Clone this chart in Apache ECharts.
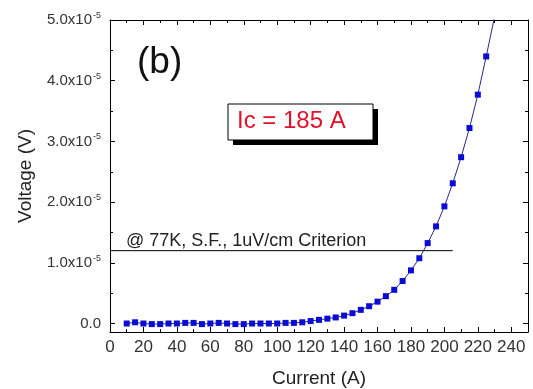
<!DOCTYPE html>
<html>
<head>
<meta charset="utf-8">
<script src="https://cdn.jsdelivr.net/npm/echarts@6.0.0/dist/echarts.min.js"></script>
<style>
  html, body { margin: 0; padding: 0; background: #fff; }
  #chart { width: 533px; height: 389px; }
</style>
</head>
<body>
<div id="chart"></div>
<script>
// current (A) and measured voltage, in units of 1e-5 V
const current = [10, 15, 20, 25, 30, 35, 40, 45, 50, 55, 60, 65, 70, 75, 80, 85, 90, 95, 100, 105,
  110, 115, 120, 125, 130, 135, 140, 145, 150, 155, 160, 165, 170, 175, 180, 185, 190, 195, 200,
  205, 210, 215, 220, 225, 230];
const voltage = [0.00, 0.02, 0.00, -0.01, -0.01, 0.00, 0.00, 0.01, 0.01, -0.01, 0.00, 0.01, 0.00,
  -0.01, -0.01, 0.00, 0.00, 0.00, 0.00, 0.01, 0.01, 0.02, 0.04, 0.06, 0.08, 0.10, 0.13, 0.17,
  0.225, 0.285, 0.36, 0.45, 0.555, 0.70, 0.875, 1.075, 1.325, 1.60, 1.93, 2.31, 2.74, 3.22,
  3.77, 4.40, 5.05];

// 1 uV/cm criterion line
const criterionX = [0, 205];
const criterionV = 1.2;

// axis ticks
const xTicks = [0, 20, 40, 60, 80, 100, 120, 140, 160, 180, 200, 220, 240];
const xMinorTicks = [10, 30, 50, 70, 90, 110, 130, 150, 170, 190, 210, 230];
const yTicks = [0, 1, 2, 3, 4, 5];
const yMinorTicks = [0.5, 1.5, 2.5, 3.5, 4.5];

const FONT = '"Liberation Sans", Arial, sans-serif';
const X_RANGE = [0, 250];
const Y_RANGE = [-0.14, 5];

const chart = echarts.init(document.getElementById('chart'));

// axis that only draws ticks (minor ticks and the mirrored top/right frame)
function tickAxis(pos, range, ticks, len, showLine) {
  return {
    type: 'value',
    position: pos,
    min: range[0],
    max: range[1],
    axisLine: { show: showLine, onZero: false, lineStyle: { color: '#000', width: 1 } },
    axisTick: { show: true, inside: true, length: len, customValues: ticks,
      lineStyle: { color: '#000', width: 1 } },
    axisLabel: { show: false },
    splitLine: { show: false }
  };
}

const xMain = {
  type: 'value',
  position: 'bottom',
  min: X_RANGE[0],
  max: X_RANGE[1],
  name: 'Current (A)',
  nameLocation: 'middle',
  nameGap: 37,
  nameTextStyle: { fontFamily: FONT, fontSize: 19, color: '#222' },
  axisLine: { show: true, onZero: false, lineStyle: { color: '#000', width: 1 } },
  axisTick: { show: true, inside: true, length: 5, customValues: xTicks,
    lineStyle: { color: '#000' } },
  axisLabel: { customValues: xTicks, fontFamily: FONT, fontSize: 17, color: '#333', margin: 7 },
  splitLine: { show: false }
};

const yMain = {
  type: 'value',
  position: 'left',
  min: Y_RANGE[0],
  max: Y_RANGE[1],
  name: 'Voltage (V)',
  nameLocation: 'middle',
  nameGap: 75,
  nameTextStyle: { fontFamily: FONT, fontSize: 19, color: '#222' },
  axisLine: { show: true, onZero: false, lineStyle: { color: '#000', width: 1 } },
  axisTick: { show: true, inside: true, length: 5, customValues: yTicks,
    lineStyle: { color: '#000' } },
  axisLabel: {
    customValues: yTicks,
    margin: 9,
    formatter: function (v) {
      if (v === 0) return '{b|0.0}';
      return '{b|' + v.toFixed(1) + 'x10}{s|-5}';
    },
    rich: {
      b: { fontFamily: FONT, fontSize: 15, color: '#333', lineHeight: 18 },
      s: { fontFamily: FONT, fontSize: 9, color: '#333', verticalAlign: 'top', lineHeight: 18, padding: [0, 0, 10, 1] }
    }
  },
  splitLine: { show: false }
};

const option = {
  backgroundColor: '#fff',
  animation: false,
  grid: { left: 110, right: 5, top: 20, bottom: 57, outerBoundsMode: 'none' },
  xAxis: [
    xMain,
    tickAxis('bottom', X_RANGE, xMinorTicks, 3, false),
    tickAxis('top', X_RANGE, xTicks, 5, true),
    tickAxis('top', X_RANGE, xMinorTicks, 3, false)
  ],
  yAxis: [
    yMain,
    tickAxis('left', Y_RANGE, yMinorTicks, 3, false),
    tickAxis('right', Y_RANGE, yTicks, 5, true),
    tickAxis('right', Y_RANGE, yMinorTicks, 3, false)
  ],
  series: [
    {
      type: 'line',
      data: criterionX.map(x => [x, criterionV]),
      symbol: 'none',
      lineStyle: { color: '#000', width: 1 },
      silent: true
    },
    {
      type: 'line',
      data: current.map((c, i) => [c, voltage[i]]),
      clip: true,
      symbol: 'rect',
      symbolSize: 6,
      itemStyle: { color: '#0b0bd6' },
      lineStyle: { color: '#2a2a80', width: 1 }
    }
  ],
  graphic: [
    { type: 'text', left: 137, top: 44,
      style: { text: '(b)', font: '37px ' + FONT, fill: '#111' } },
    { type: 'text', left: 126, top: 232,
      style: { text: '@ 77K, S.F., 1uV/cm Criterion', font: '18px ' + FONT, fill: '#222' } },
    { type: 'rect', shape: { x: 233, y: 109, width: 145, height: 36 },
      style: { fill: '#000' } },
    { type: 'rect', shape: { x: 228, y: 104, width: 145, height: 36 },
      style: { fill: '#fff', stroke: '#000', lineWidth: 1 } },
    { type: 'text', left: 237, top: 109,
      style: { text: 'Ic = 185 A', font: '24px ' + FONT, fill: '#e0102a' } }
  ]
};

chart.setOption(option);
</script>
</body>
</html>
